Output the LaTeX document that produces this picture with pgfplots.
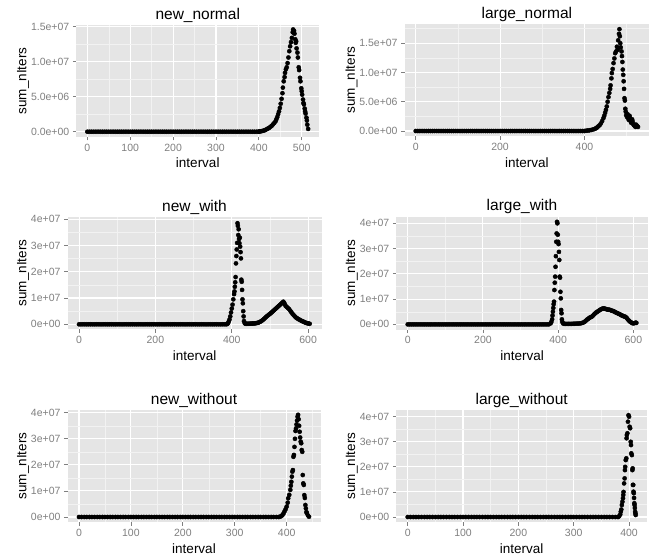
\documentclass[border=0pt]{standalone}
\usepackage{fontspec}
\setmainfont{Liberation Sans}
\usepackage{pgfplots}
\usepackage{pgfplotstable}
\pgfplotsset{compat=1.18}

\definecolor{ggbg}{HTML}{E5E5E5}
\definecolor{ggminor}{HTML}{F2F2F2}
\definecolor{ggtick}{HTML}{7F7F7F}

% y values in units of 1e6
\pgfplotstableread[row sep=\\]{
x y\\
0 0\\ 5 0\\ 10 0\\ 15 0\\ 20 0\\ 25 0\\ 30 0\\ 35 0\\ 40 0\\ 45 0\\
50 0\\ 55 0\\ 60 0\\ 65 0\\ 70 0\\ 75 0\\ 80 0\\ 85 0\\ 90 0\\ 95 0\\
100 0\\ 105 0\\ 110 0\\ 115 0\\ 120 0\\ 125 0\\ 130 0\\ 135 0\\ 140 0\\ 145 0\\
150 0\\ 155 0\\ 160 0\\ 165 0\\ 170 0\\ 175 0\\ 180 0\\ 185 0\\ 190 0\\ 195 0\\
200 0\\ 205 0\\ 210 0\\ 215 0\\ 220 0\\ 225 0\\ 230 0\\ 235 0\\ 240 0\\ 245 0\\
250 0\\ 255 0\\ 260 0\\ 265 0\\ 270 0\\ 275 0\\ 280 0\\ 285 0\\ 290 0\\ 295 0\\
300 0\\ 305 0\\ 310 0\\ 315 0\\ 320 0\\ 325 0\\ 330 0\\ 335 0\\ 340 0\\ 345 0\\
350 0\\ 355 0\\ 360 0\\ 365 0\\ 370 0\\ 375 0\\ 380 0\\ 385 0\\ 390 0\\ 395 0\\
400 0\\
}\flatdata

\pgfplotstableread[row sep=\\]{
x y\\
400 0.02\\ 403 0.05\\ 406 0.08\\ 409 0.12\\ 412 0.18\\ 415 0.25\\ 418 0.35\\ 421 0.45\\
424 0.55\\ 427 0.7\\ 430 0.85\\ 433 1.05\\ 436 1.25\\ 439 1.5\\ 441 1.8\\ 443 2.1\\
445 2.5\\ 447 2.9\\ 449 3.4\\ 451 4.0\\ 453 4.7\\ 455 5.5\\ 456 6.3\\ 458 7.2\\
460 7.8\\ 461 8.4\\ 463 8.9\\ 465 9.2\\ 467 9.8\\ 469 10.6\\ 471 11.5\\ 473 12.2\\
475 12.8\\ 477 13.4\\ 479 14.2\\ 480 14.6\\ 482 14.4\\ 483 14.0\\ 485 13.2\\ 486 12.7\\
487 12.9\\ 488 11.9\\ 490 11.3\\ 491 10.6\\ 493 9.2\\ 494 8.8\\ 496 7.7\\ 497 7.2\\
499 6.2\\ 500 5.8\\ 501 5.3\\ 503 4.6\\ 504 4.1\\ 505 3.9\\ 507 3.3\\ 508 2.9\\
509 2.6\\ 511 2.0\\ 512 1.6\\ 513 1.0\\ 515 0.4\\
}\newnormal

\pgfplotstableread[row sep=\\]{
x y\\
404 0.05\\ 408 0.08\\ 412 0.12\\ 416 0.18\\ 420 0.25\\ 424 0.35\\ 427 0.45\\ 430 0.6\\
433 0.8\\ 436 1.0\\ 439 1.3\\ 442 1.7\\ 445 2.2\\ 447 2.6\\ 449 3.1\\ 451 3.6\\
453 4.2\\ 455 5.0\\ 457 5.8\\ 459 6.5\\ 461 7.2\\ 462 7.8\\ 464 9.0\\ 465 9.9\\
467 10.6\\ 469 11.6\\ 471 12.4\\ 473 13.3\\ 475 13.6\\ 477 14.4\\ 479 13.9\\ 480 15.5\\
482 16.6\\ 483 17.4\\ 484 16.2\\ 485 15.0\\ 486 14.3\\ 488 13.6\\ 489 12.8\\ 490 11.8\\
491 10.5\\ 492 9.6\\ 493 8.5\\ 494 7.2\\ 495 5.6\\ 496 5.2\\ 497 3.8\\ 498 3.3\\
499 2.7\\ 501 2.4\\ 502 2.9\\ 504 2.2\\ 505 1.9\\ 507 2.6\\ 508 2.2\\ 510 1.6\\
511 1.4\\ 513 2.0\\ 514 1.7\\ 516 1.2\\ 517 1.0\\ 519 0.9\\ 521 0.7\\ 522 1.1\\
524 0.8\\ 525 0.9\\ 527 0.7\\
}\largenormal

\pgfplotstableread[row sep=\\]{
x y\\
388 0.1\\ 390 0.4\\ 392 1.0\\ 394 1.8\\ 396 3.0\\ 398 4.5\\ 400 6.0\\ 402 7.5\\
404 9.5\\ 406 11.5\\ 407 12.5\\ 408 14.3\\ 409 16.0\\ 410 18.0\\ 411 23.2\\ 412 26.0\\
413 28.5\\ 414 31.0\\ 415 38.5\\ 416 37.5\\ 417 34.0\\ 418 36.2\\ 419 32.5\\ 420 30.9\\
421 33.0\\ 422 29.6\\ 423 27.5\\ 424 25.1\\ 425 17.0\\ 426 16.2\\ 427 13.1\\ 428 9.5\\
429 8.0\\ 430 5.0\\ 431 3.0\\ 432 1.2\\ 434 0.4\\ 436 0.2\\ 439 0.2\\ 442 0.2\\
445 0.2\\ 448 0.25\\ 451 0.25\\ 454 0.3\\ 457 0.3\\ 460 0.35\\ 463 0.4\\ 466 0.5\\
469 0.6\\ 472 0.8\\ 475 1.0\\ 478 1.3\\ 481 1.6\\ 484 2.0\\ 487 2.4\\ 490 2.8\\
493 3.2\\ 496 3.5\\ 499 3.9\\ 502 4.2\\ 505 4.6\\ 508 5.0\\ 511 5.4\\ 514 5.8\\
517 6.2\\ 520 6.6\\ 523 7.0\\ 526 7.4\\ 529 7.8\\ 532 8.2\\ 535 8.6\\ 537 8.2\\
539 7.6\\ 541 7.0\\ 544 6.6\\ 547 6.2\\ 550 5.8\\ 553 5.2\\ 556 4.6\\ 559 4.0\\
562 3.5\\ 565 3.0\\ 568 2.6\\ 571 2.3\\ 574 2.0\\ 577 1.8\\ 580 1.5\\ 583 1.3\\
586 1.1\\ 589 0.9\\ 592 0.7\\ 595 0.5\\ 598 0.4\\ 601 0.3\\ 604 0.2\\
}\newwith

\pgfplotstableread[row sep=\\]{
x y\\
380 0.4\\ 382 1.0\\ 384 2.0\\ 385 3.5\\ 386 5.0\\ 387 6.5\\ 388 8.0\\ 389 9.0\\
390 13.6\\ 391 16.5\\ 392 18.9\\ 393 22.8\\ 394 27.0\\ 395 32.7\\ 396 36.0\\ 397 40.6\\
398 40.0\\ 399 35.5\\ 400 32.7\\ 401 31.8\\ 402 28.7\\ 403 25.5\\ 404 18.9\\ 405 18.5\\
406 12.9\\ 407 10.3\\ 408 5.7\\ 409 4.4\\ 410 2.0\\ 411 1.0\\ 413 0.4\\ 416 0.2\\
420 0.2\\ 424 0.2\\ 428 0.2\\ 432 0.2\\ 436 0.2\\ 440 0.25\\ 444 0.25\\ 448 0.3\\
452 0.3\\ 456 0.35\\ 460 0.4\\ 464 0.6\\ 468 0.8\\ 471 1.1\\ 474 1.5\\ 477 1.9\\
480 2.2\\ 483 2.6\\ 486 2.8\\ 489 3.0\\ 492 3.4\\ 495 3.9\\ 498 4.3\\ 501 4.7\\
504 5.0\\ 507 5.3\\ 510 5.6\\ 513 5.9\\ 516 6.1\\ 519 6.3\\ 522 6.3\\ 525 6.2\\
528 6.0\\ 531 5.9\\ 534 5.8\\ 537 5.8\\ 540 5.6\\ 543 5.4\\ 546 5.3\\ 549 5.1\\
552 4.8\\ 555 4.6\\ 558 4.4\\ 561 4.2\\ 564 4.0\\ 567 3.7\\ 570 3.5\\ 573 3.3\\
576 3.1\\ 579 3.0\\ 582 2.6\\ 585 2.0\\ 588 1.5\\ 591 1.1\\ 594 0.8\\ 597 0.5\\
600 0.4\\ 603 0.5\\ 606 0.7\\ 608 0.6\\
}\largewith

\pgfplotstableread[row sep=\\]{
x y\\
388 0.2\\ 390 0.4\\ 392 0.8\\ 394 1.4\\ 396 2.2\\ 398 3.0\\ 400 4.0\\ 402 5.5\\
403 7.2\\ 405 8.5\\ 407 10.4\\ 408 12.0\\ 409 13.5\\ 410 15.5\\ 411 17.4\\ 412 18.0\\
413 23.1\\ 414 23.8\\ 415 26.9\\ 416 30.0\\ 417 33.0\\ 418 34.0\\ 419 35.5\\ 420 37.0\\
421 38.5\\ 422 39.2\\ 423 37.5\\ 424 35.0\\ 425 32.7\\ 426 30.5\\ 427 28.9\\ 428 28.3\\
429 25.7\\ 430 25.0\\ 431 16.1\\ 432 12.9\\ 433 12.3\\ 434 8.4\\ 435 7.3\\ 436 4.6\\
437 3.3\\ 438 1.9\\ 439 1.5\\ 441 0.6\\ 443 0.1\\
}\newwithout

\pgfplotstableread[row sep=\\]{
x y\\
382 0.3\\ 384 1.0\\ 385 2.1\\ 386 3.0\\ 387 4.8\\ 388 6.1\\ 389 7.5\\ 389.5 8.8\\
390 10.0\\ 391 13.4\\ 392 15.4\\ 392.5 18.7\\ 393 20.0\\ 394 22.7\\ 395 23.4\\ 395.5 31.4\\
396 32.7\\ 397 33.4\\ 398 38.0\\ 399 40.6\\ 400 40.0\\ 401 36.0\\ 402 35.4\\ 403 30.0\\
403.5 28.7\\ 404 25.4\\ 405 24.7\\ 406 18.7\\ 406.5 19.4\\ 407 12.8\\ 407.5 12.8\\ 408 10.1\\
408.5 9.5\\ 409 7.6\\ 409.5 5.5\\ 410 4.8\\ 410.5 3.6\\ 411 2.1\\ 411.5 1.5\\ 412 0.8\\
}\largewithout

\pgfplotsset{
  ggpanel/.style={
    scale only axis,
    anchor=north west,
    axis background/.style={fill=ggbg},
    axis line style={draw=none},
    grid=both,
    major grid style={white, line width=1.1pt},
    minor grid style={ggminor, line width=0.5pt},
    tick pos=left,
    tick align=outside,
    major tick length=3.5pt,
    minor tick length=0pt,
    tick style={ggtick, line width=0.8pt},
    tick label style={ggtick, font=\fontsize{10.5}{12}\selectfont},
    label style={black, font=\fontsize{13.5}{15}\selectfont},
    ylabel shift=-5pt,
    title style={font=\fontsize{15.5}{17}\selectfont, yshift=-7pt},
    xlabel={interval},
    ylabel={sum\_nIters},
    /pgf/number format/assume math mode=true,
  },
  ggpts/.style={only marks, mark=*, mark size=2.1pt, black,
    mark options={draw=black, fill=black}},
  y4e7/.style={
    ytick={0,10,20,30,40},
    yticklabels={0e+00,1e+07,2e+07,3e+07,4e+07},
    minor ytick={5,15,25,35},
  },
}

\begin{document}
\begin{tikzpicture}
\useasboundingbox (0,0) rectangle (650pt,-557pt);

\begin{axis}[ggpanel, at={(76.3pt,-25.1pt)}, width=242.9pt, height=111.7pt,
  title={new\_normal},
  xmin=-25.75, xmax=540.75, ymin=-0.725, ymax=15.225,
  xtick={0,100,200,300,400,500}, minor xtick={50,150,250,350,450},
  ytick={0,5,10,15}, yticklabels={0.0e+00,5.0e+06,1.0e+07,1.5e+07},
  minor ytick={2.5,7.5,12.5}]
  \addplot[ggpts, restrict x to domain=0:400] table {\flatdata};
  \addplot[ggpts] table {\newnormal};
\end{axis}

\begin{axis}[ggpanel, at={(404.6pt,-24.1pt)}, width=244.5pt, height=112pt,
  title={large\_normal},
  xmin=-26.35, xmax=553.35, ymin=-0.87, ymax=18.27,
  xtick={0,200,400}, minor xtick={100,300,500},
  ytick={0,5,10,15}, yticklabels={0.0e+00,5.0e+06,1.0e+07,1.5e+07},
  minor ytick={2.5,7.5,12.5,17.5}]
  \addplot[ggpts, restrict x to domain=0:400] table {\flatdata};
  \addplot[ggpts] table {\largenormal};
\end{axis}

\begin{axis}[ggpanel, y4e7, at={(67.5pt,-216.8pt)}, width=254.1pt, height=112.6pt,
  title={new\_with},
  xmin=-30.25, xmax=635.25, ymin=-1.95, ymax=40.95,
  xtick={0,200,400,600}, minor xtick={100,300,500}]
  \addplot[ggpts, restrict x to domain=0:386] table {\flatdata};
  \addplot[ggpts] table {\newwith};
\end{axis}

\begin{axis}[ggpanel, y4e7, at={(396.3pt,-216.7pt)}, width=251.5pt, height=112.8pt,
  title={large\_with},
  xmin=-30.4, xmax=638.4, ymin=-2.03, ymax=42.63,
  xtick={0,200,400,600}, minor xtick={100,300,500}]
  \addplot[ggpts, restrict x to domain=0:378] table {\flatdata};
  \addplot[ggpts] table {\largewith};
\end{axis}

\begin{axis}[ggpanel, y4e7, at={(67.5pt,-409.7pt)}, width=253pt, height=112.4pt,
  title={new\_without},
  xmin=-22.15, xmax=465.15, ymin=-1.96, ymax=41.16,
  xtick={0,100,200,300,400}, minor xtick={50,150,250,350,450}]
  \addplot[ggpts, restrict x to domain=0:386] table {\flatdata};
  \addplot[ggpts] table {\newwithout};
\end{axis}

\begin{axis}[ggpanel, y4e7, at={(396.3pt,-410.1pt)}, width=250.8pt, height=112pt,
  title={large\_without},
  xmin=-20.6, xmax=432.6, ymin=-2.03, ymax=42.63,
  xtick={0,100,200,300,400}, minor xtick={50,150,250,350}]
  \addplot[ggpts, restrict x to domain=0:380] table {\flatdata};
  \addplot[ggpts] table {\largewithout};
\end{axis}
\end{tikzpicture}
\end{document}
